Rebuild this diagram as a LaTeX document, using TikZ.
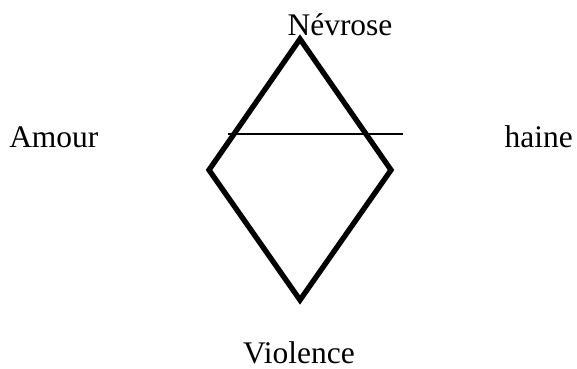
\documentclass[tikz,border=0pt]{standalone}
\usepackage{fontspec}
\setmainfont{Liberation Serif}
\usetikzlibrary{calc,positioning}
\begin{document}
\begin{tikzpicture}[x=0.75pt,y=-0.75pt,
    label/.style={anchor=base,inner sep=0pt,font=\fontsize{23.6}{28}\selectfont}]
        \useasboundingbox (0,0) rectangle (577,368);
        \coordinate (top) at (300,39);
        \coordinate (left) at (209,170);
        \coordinate (bottom) at (300,300);
        \coordinate (right) at (391,170);
        \coordinate (cutl) at (228,134);
        \coordinate (cutr) at (403,134);
        %Diamond
        \draw[line width=4pt,line join=miter] (top) -- (right) -- (bottom) -- (left) -- cycle;
        %Cut line
        \draw[line width=1.6pt] (cutl) -- (cutr);
        %Labels
        \node[label] (nevrose) at (340,35) {Névrose};
        \node[label,anchor=base west] (amour) at (9,147) {Amour};
        \node[label,anchor=base east] (haine) at (573,147) {haine};
        \node[label] (violence) at (299,363) {Violence};
      \end{tikzpicture}
\end{document}
